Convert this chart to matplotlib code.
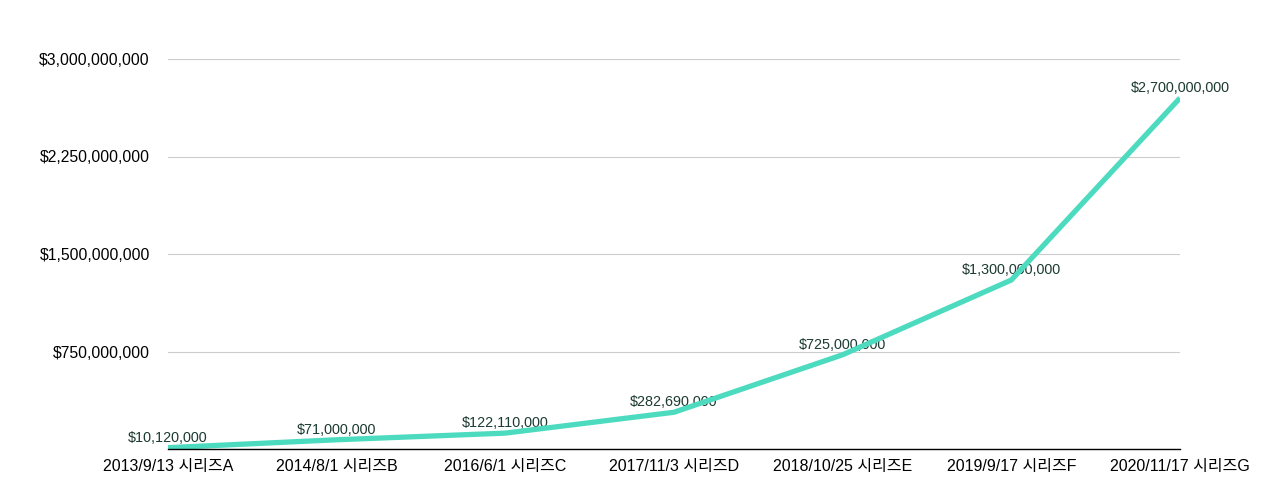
import matplotlib
matplotlib.use("Agg")
import matplotlib.pyplot as plt
from matplotlib.ticker import FuncFormatter, MultipleLocator

plt.rcParams['font.family'] = ['Liberation Sans', 'Noto Sans CJK KR', 'DejaVu Sans']

categories = ["2013/9/13 시리즈A", "2014/8/1 시리즈B", "2016/6/1 시리즈C", "2017/11/3 시리즈D",
              "2018/10/25 시리즈E", "2019/9/17 시리즈F", "2020/11/17 시리즈G"]
values = [10120000, 71000000, 122110000, 282690000, 725000000, 1300000000, 2700000000]

fig = plt.figure(figsize=(12.8, 5.04), dpi=100)
ax = fig.add_axes([168/1280, 1-449/504, (1180-168)/1280, (449-59)/504])

x = list(range(len(categories)))
ax.plot(x, values, color='#4DDBC0', linewidth=3.8, solid_capstyle='butt', zorder=3)
for xi, v in zip(x, values):
    ax.annotate(f"${v:,.0f}", (xi, v), xytext=(0, 2), textcoords='offset points',
                ha='center', va='bottom', fontsize=10.4, color='#1c3b32', zorder=2)

ax.set_xlim(0, len(categories) - 1)
ax.set_ylim(0, 3e9)
ax.set_xticks(x)
ax.set_xticklabels(categories, fontsize=11.5)
ax.yaxis.set_major_locator(MultipleLocator(7.5e8))
ax.yaxis.set_major_formatter(FuncFormatter(lambda v, p: "" if v == 0 else f"${v:,.0f}"))
ax.tick_params(axis='y', length=0, labelsize=11.3, pad=13)
ax.tick_params(axis='x', length=0, pad=7)
ax.grid(axis='y', color='#cccccc', linewidth=0.8)
ax.set_axisbelow(True)
for s in ['top', 'right', 'left']:
    ax.spines[s].set_visible(False)
ax.spines['bottom'].set_color('black')
ax.spines['bottom'].set_linewidth(1.0)
ax.spines['bottom'].set_zorder(4)

fig.savefig("out.png", dpi=100)
